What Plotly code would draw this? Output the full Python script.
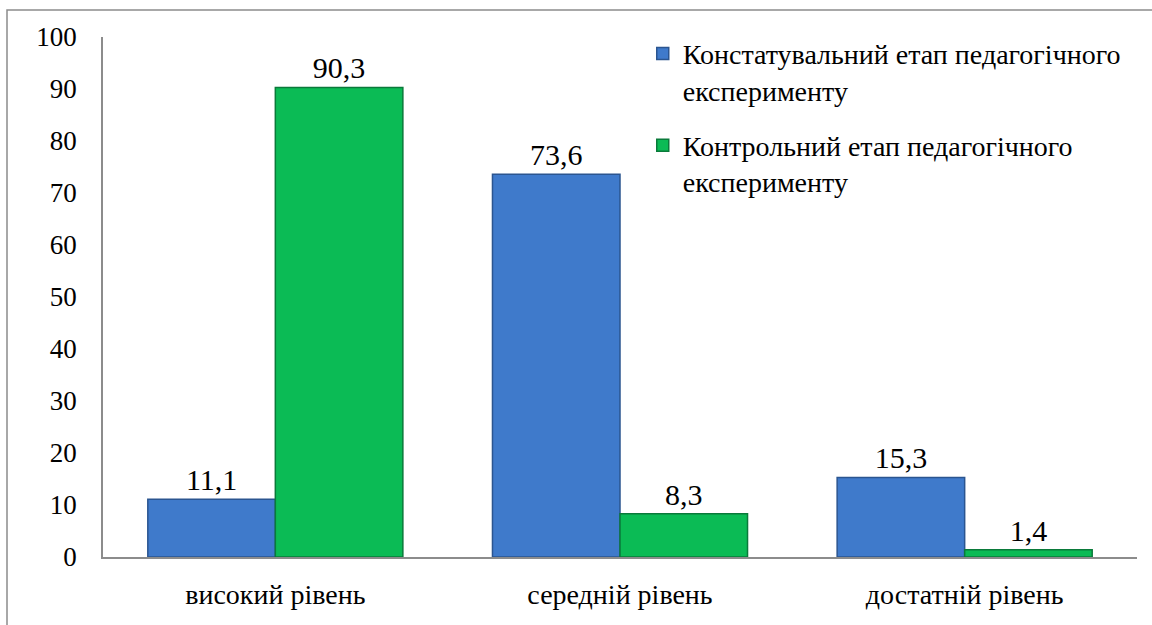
import plotly.graph_objects as go

categories = ["високий рівень", "середній рівень", "достатній рівень"]
series_names = ["Констатувальний етап педагогічного<br>експерименту",
                "Контрольний етап педагогічного<br>експерименту"]
constat = [11.1, 73.6, 15.3]
control = [90.3, 8.3, 1.4]
y_ticks = [0, 10, 20, 30, 40, 50, 60, 70, 80, 90, 100]

FONT = "Times New Roman, Liberation Serif, serif"

fig = go.Figure()
fig.add_trace(go.Bar(
    x=categories, y=constat, name=series_names[0], legendgroup="a",
    marker=dict(color="#3f7acb", line=dict(color="#2b5590", width=1.5)),
    texttemplate="%{y:.1f}", textposition="outside",
    textfont=dict(size=30, color="black", family=FONT), cliponaxis=False,
))
fig.add_trace(go.Bar(
    x=categories, y=control, name=series_names[1], legendgroup="b",
    marker=dict(color="#0bbb55", line=dict(color="#0a7a3a", width=1.5)),
    texttemplate="%{y:.1f}", textposition="outside",
    textfont=dict(size=30, color="black", family=FONT), cliponaxis=False,
))

fig.update_layout(
    width=1152, height=625,
    paper_bgcolor="white", plot_bgcolor="white",
    margin=dict(l=103, r=15, t=37, b=68),
    separators=", ",
    barmode="group", bargap=0.26, bargroupgap=0,
    font=dict(family=FONT, color="black", size=28),
    legend=dict(x=0.522, y=1.016, xanchor="left", yanchor="top",
                font=dict(size=28, family=FONT), valign="top",
                tracegroupgap=16, bgcolor="rgba(0,0,0,0)"),
    xaxis=dict(showline=True, linecolor="#8c8c8c", linewidth=1.5, ticks="",
               tickfont=dict(size=28, family=FONT), ticklabelstandoff=12),
    yaxis=dict(range=[0, 100], tickvals=y_ticks, showgrid=False, zeroline=False,
               showline=True, linecolor="#8c8c8c", linewidth=1.5, ticks="",
               tickfont=dict(size=27, family=FONT), ticklabelstandoff=19),
    shapes=[dict(type="rect", xref="paper", yref="paper",
                 x0=(7 - 103) / 1034, x1=(1170 - 103) / 1034,
                 y0=(557 - 640) / 520, y1=(557 - 10) / 520,
                 line=dict(color="#8c8c8c", width=1.5))],
)

fig.write_html("out.html", config={"displayModeBar": False},
               post_script="document.body.style.margin='0';")
